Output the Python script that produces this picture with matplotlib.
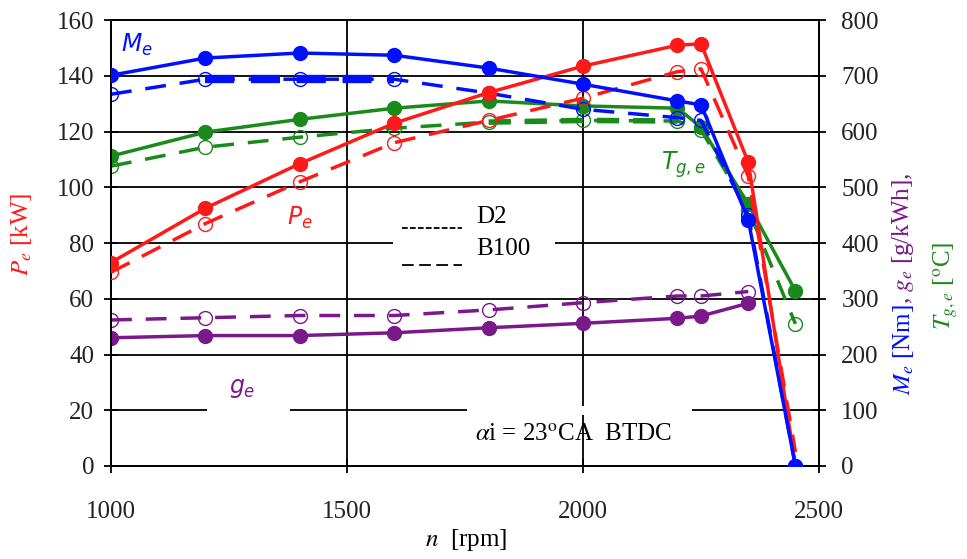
import matplotlib
matplotlib.use("Agg")
import matplotlib.pyplot as plt
from matplotlib.patches import Rectangle

# engine speed [rpm]
n = [1000, 1200, 1400, 1600, 1800, 2000, 2200, 2250, 2350, 2450]

# effective power [kW] (left axis)
pe_d2 = [73, 92.5, 108.5, 123, 134, 143.5, 151, 151.5, 109, 0]
pe_b100 = [69.5, 87, 102, 116, 124, 132, 141.5, 142.5, 104, 5]

# torque [Nm] (right axis)
me_d2 = [701, 732, 741, 737, 714, 685, 655, 648, 442, 0]
me_b100 = [667, 694, 694, 694, 669, 640, 625, 620, 450, 0]

# exhaust gas temperature [C] (right axis)
tg_d2 = [556, 599, 622, 642, 655, 646, 642, 608, 470, 314]
tg_b100 = [538, 572, 590, 606, 617, 620, 619, 603, 460, 255]

# specific fuel consumption [g/kWh] (right axis)
ge_d2 = [230, 234, 234, 239, 248, 256, 265, 269, 292]
ge_b100 = [262, 266, 270, 270, 280, 293, 305, 305, 313]

left_ticks = list(range(0, 161, 20))
right_ticks = list(range(0, 801, 100))
x_ticks = [1000, 1500, 2000, 2500]

RED = "#ff1a1a"
BLUE = "#0010ff"
GREEN = "#1a8a1a"
PURPLE = "#7a1a8a"
SERIF = "Liberation Serif"
FS = 18

fig = plt.figure(figsize=(9.67, 5.59), dpi=100)
ax2 = fig.add_axes([0.1148, 0.1664, 0.7322, 0.7976])
ax = ax2.twinx()
# kW axis on the left, the rest on the right
ax.yaxis.tick_left()
ax2.yaxis.tick_right()
ax.set_zorder(ax2.get_zorder() + 1)
ax.patch.set_visible(False)

ax.set_xlim(1000, 2500)
ax.set_ylim(0, 160)
ax2.set_ylim(0, 800)
ax2.set_xticks(x_ticks)
ax.set_yticks(left_ticks)
ax2.set_yticks(right_ticks)

for v in right_ticks[1:-1]:
    ax2.axhline(v, color="black", lw=1.3, zorder=0)
for v in x_ticks[1:-1]:
    ax2.axvline(v, color="black", lw=1.3, zorder=0)

# white gaps in the grid behind the labels
for x0, x1, y in [(1597, 1940, 400), (1203, 1379, 100), (1754, 2231, 100)]:
    ax2.add_patch(Rectangle((x0, y - 8), x1 - x0, 16, facecolor="white", edgecolor="none", zorder=1))

for a in (ax, ax2):
    for s in a.spines.values():
        s.set_linewidth(1.3)
    a.tick_params(direction="inout", length=10, width=1.3, labelsize=FS)
    for lab in a.get_xticklabels() + a.get_yticklabels():
        lab.set_fontfamily(SERIF)
        lab.set_color("#222222")
ax.tick_params(axis="y", pad=7)
ax2.tick_params(axis="y", pad=11)
ax2.tick_params(axis="x", pad=20)

solid = dict(lw=2.5, marker="o", ms=10, zorder=3)
dashed = dict(lw=2.5, ls=(0, (6, 4)), marker="o", ms=10, mfc="none", mew=1.0, zorder=3)

ax2.plot(n[:9], ge_b100, color=PURPLE, mec=PURPLE, **dashed)
ax2.plot(n[:9], ge_d2, color=PURPLE, **solid)
ax2.plot(n, tg_b100, color=GREEN, mec=GREEN, **dashed)
ax2.plot(n[4:7], tg_b100[4:7], color=GREEN, lw=4, ls=(0, (4, 2.5)), zorder=3)
ax2.plot(n, tg_d2, color=GREEN, **solid)
ax2.plot(n, me_b100, color=BLUE, mec=BLUE, **dashed)
ax2.plot(n[1:4], me_b100[1:4], color=BLUE, lw=6, ls=(0, (3.5, 2)), zorder=3)

ax.plot(n, pe_b100, color=RED, lw=2.5, ls=(0, (6, 4)), zorder=3)
ax.plot(n[:9], pe_b100[:9], color=RED, ls="none", marker="o", ms=10, mfc="none", mec=RED, mew=1.0, zorder=3)
ax.plot(n, pe_d2, color=RED, markevery=slice(0, 9), **solid)
# torque drawn last so its end point sits on top
ax.plot(n, [v / 5 for v in me_d2], color=BLUE, **solid)

# curve labels
ax.text(1022, 151, "$M_e$", color=BLUE, fontsize=17, va="center", math_fontfamily="dejavusans")
ax.text(1372, 89, "$P_e$", color=RED, fontsize=17, va="center", math_fontfamily="dejavusans")
ax.text(2165, 108, "$T_{g,e}$", color=GREEN, fontsize=17, va="center", math_fontfamily="dejavusans")
ax.text(1250, 28, "$g_e$", color=PURPLE, fontsize=17, va="center", math_fontfamily="dejavusans")

# legend
ax.plot([1616, 1744], [85.4, 85.4], color="black", lw=1.3, ls=(0, (3.2, 1.2)))
ax.plot([1616, 1744], [72.1, 72.1], color="black", lw=1.3, ls=(0, (6.5, 3)))
ax.text(1773, 89.3, "D2", fontsize=FS, fontfamily=SERIF, va="center")
ax.text(1773, 77.8, "B100", fontsize=FS, fontfamily=SERIF, va="center")

ax.text(1771, 11.1, r"$\alpha$i = 23$^\mathrm{o}$CA  BTDC", fontsize=FS, fontfamily=SERIF,
        va="center", math_fontfamily="stix")

# axis labels
fig.text(0.482, 0.034, "$n$  [rpm]", fontsize=FS, fontfamily=SERIF, ha="center", va="center",
         math_fontfamily="stix")
fig.text(0.022, 0.58, "$P_e$ [kW]", fontsize=FS, fontfamily=SERIF, color=RED, rotation=90,
         ha="center", va="center", math_fontfamily="stix")

fig.canvas.draw()
r = fig.canvas.get_renderer()
H = fig.bbox.height
y = 0.293
for txt, col in [("$M_e$ [Nm]", BLUE), (", $g_e$ [g/kWh],", PURPLE)]:
    t = fig.text(0.934, y, txt, fontsize=FS, fontfamily=SERIF, color=col, rotation=90,
                 ha="center", va="bottom", math_fontfamily="stix")
    y = t.get_window_extent(r).y1 / H
fig.text(0.978, 0.41, r"$T_{g,e}$ [$^\mathrm{o}$C]", fontsize=FS, fontfamily=SERIF, color=GREEN,
         rotation=90, ha="center", va="bottom", math_fontfamily="stix")

fig.savefig("out.png", dpi=100)
